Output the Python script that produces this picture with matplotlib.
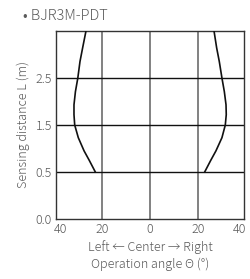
import numpy as np
import matplotlib
matplotlib.use('Agg')
import matplotlib.pyplot as plt

# DATA
title = '• BJR3M-PDT'
dist_ticks = [0.0, 0.5, 1.5, 2.5]
dist_labels = ['0.0', '0.5', '1.5', '2.5']
angle_ticks = [-40, -20, 0, 20, 40]
angle_labels = ['40', '20', '0', '20', '40']

# boundary of sensing area, distance (m) and angle (deg)
bound_dist = [0.5, 0.745, 0.95, 1.23, 1.5, 1.72, 1.93, 2.21, 2.5, 2.85, 3.14, 3.5]
left_angle = [-22.8, -25.3, -27.5, -29.9, -31.4, -31.7, -31.7, -31.1, -30.1, -29.2, -28.1, -26.7]
right_angle = [22.8, 25.3, 27.5, 30.0, 31.4, 31.8, 31.7, 31.0, 30.0, 28.9, 27.8, 26.7]

# the y axis is drawn with equal spacing between grid values
scale_vals = [0.0, 0.5, 1.5, 2.5, 3.5]
scale_pos = [0, 1, 2, 3, 4]

def ypos(d):
    return np.interp(d, scale_vals, scale_pos)

plt.rcParams['font.family'] = ['Noto Sans CJK JP', 'DejaVu Sans']
txt = '#5a5a5a'

fig = plt.figure(figsize=(2.51, 2.79), dpi=100)
ax = fig.add_axes([56/251, 1 - 219/279, 188/251, 188/279])

for a in angle_ticks[1:-1]:
    ax.axvline(a, color='#777777', lw=1.3, zorder=1)
for d in dist_ticks[1:]:
    ax.axhline(ypos(d), color='#111111', lw=1.0, zorder=1)

ax.plot(left_angle, ypos(bound_dist), color='#111111', lw=1.2, zorder=3)
ax.plot(right_angle, ypos(bound_dist), color='#111111', lw=1.2, zorder=3)

ax.set_xlim(-39.2, 39.2)
ax.set_ylim(0, ypos(3.5))
ax.set_xticks([-37.5, -20, 0, 20, 37.5])
ax.set_xticklabels(angle_labels)
ax.set_yticks([ypos(d) for d in dist_ticks])
ax.set_yticklabels(dist_labels)
ax.tick_params(length=0, labelsize=9, colors=txt, pad=3)
for lab in ax.get_xticklabels() + ax.get_yticklabels():
    lab.set_fontweight('light')
for s in ax.spines.values():
    s.set_color('#333333')
    s.set_linewidth(1.0)

ax.set_xlabel('Left ← Center → Right\nOperation angle Θ (°)', fontsize=9,
              color=txt, labelpad=3, linespacing=1.35, fontweight='light')
ax.set_ylabel('Sensing distance L (m)', fontsize=9, color=txt, labelpad=4,
              fontweight='light')
fig.text(23/251, 1 - 16/279, title, fontsize=10.5, color=txt, va='center',
         ha='left', fontweight='light')

plt.savefig('out.png', dpi=100)
